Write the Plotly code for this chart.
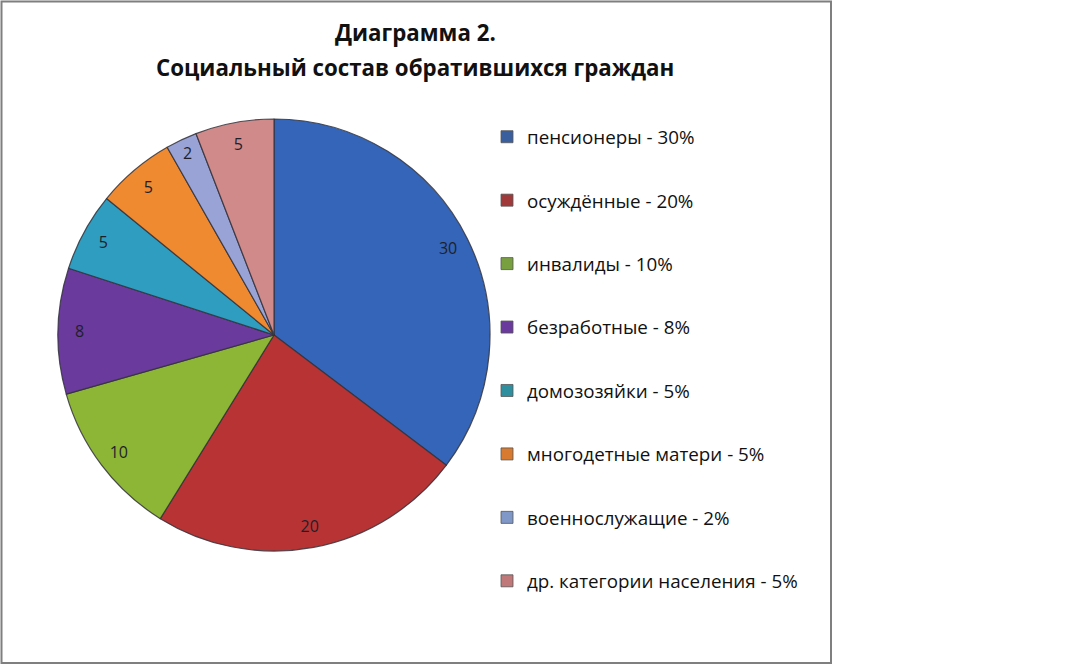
import plotly.graph_objects as go

categories = ["пенсионеры", "осуждённые", "инвалиды", "безработные",
              "домозозяйки", "многодетные матери", "военнослужащие",
              "др. категории населения"]
values = [30, 20, 10, 8, 5, 5, 2, 5]
percents = ["30%", "20%", "10%", "8%", "5%", "5%", "2%", "5%"]
colors = ["#3465B8", "#B83434", "#8DB536", "#6A3A9C", "#2F9DBF",
          "#F08A30", "#9AA3D6", "#D08A8A"]
legend_colors = ["#3A5F9E", "#A03A3A", "#78A040", "#6A3A9C", "#2F8F9F",
                 "#D87A30", "#7F98C8", "#C07878"]
title_lines = ["Диаграмма 2.", "Социальный состав обратившихся граждан"]

W, H = 1080, 665
FONT = "Open Sans"

dom_x = [58 / W, 490 / W]
dom_y = [1 - 551 / H, 1 - 119 / H]

fig = go.Figure()

# main pie
fig.add_trace(go.Pie(
    labels=categories, values=values, sort=False, direction="clockwise",
    rotation=0, domain=dict(x=dom_x, y=dom_y),
    marker=dict(colors=colors, line=dict(color="rgba(50,50,60,0.85)", width=1.2)),
    textinfo="none", hoverinfo="label+value", showlegend=False,
))

# value labels near the outer edge (transparent ring)
fig.add_trace(go.Pie(
    labels=categories, values=values, sort=False, direction="clockwise",
    rotation=0, domain=dict(x=dom_x, y=dom_y), hole=0.8,
    marker=dict(colors=["rgba(0,0,0,0)"] * len(values), line=dict(width=0)),
    text=[str(v) for v in values], textinfo="text", textposition="inside",
    insidetextorientation="horizontal",
    textfont=dict(family=FONT, size=16, color="#1f1f2a"),
    hoverinfo="skip", showlegend=False,
))

# legend entries
for i, (c, p) in enumerate(zip(categories, percents)):
    fig.add_trace(go.Scatter(
        x=[None], y=[None], mode="markers", name=f"{c} - {p}",
        legendgroup=f"g{i}",
        marker=dict(symbol="square", size=12, color=legend_colors[i],
                    line=dict(color="#555555", width=0.8)),
    ))

fig.update_layout(
    width=W, height=H,
    margin=dict(l=0, r=0, t=0, b=0),
    paper_bgcolor="white", plot_bgcolor="white",
    xaxis=dict(visible=False), yaxis=dict(visible=False),
    showlegend=True,
    legend=dict(
        x=(529 - 42) / W, xanchor="left", y=1 - 118 / H, yanchor="top",
        font=dict(family=FONT, size=18.8, color="#111111"),
        tracegroupgap=36, itemclick=False, bgcolor="rgba(0,0,0,0)",
    ),
    annotations=[
        dict(text=f"<b>{title_lines[0]}</b>", x=415 / W, y=1 - 33 / H,
             xref="paper", yref="paper", showarrow=False,
             xanchor="center", yanchor="middle",
             font=dict(family=FONT, size=22.3, color="#111111")),
        dict(text=f"<b>{title_lines[1]}</b>", x=415 / W, y=1 - 67 / H,
             xref="paper", yref="paper", showarrow=False,
             xanchor="center", yanchor="middle",
             font=dict(family=FONT, size=22.3, color="#111111")),
    ],
    shapes=[dict(type="rect", xref="paper", yref="paper",
                 x0=1.5 / W, x1=831 / W, y0=1 - 663 / H, y1=1 - 1.5 / H,
                 line=dict(color="#7f7f7f", width=2))],
)

fig.write_html("out.html", config={"displayModeBar": False},
               post_script="document.body.style.margin='0';document.body.style.overflow='hidden';")
